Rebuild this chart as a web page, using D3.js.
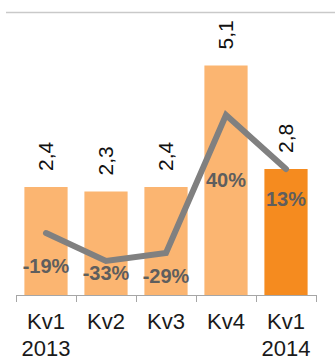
<!DOCTYPE html>
<html>
<head>
<meta charset="utf-8">
<script src="https://cdnjs.cloudflare.com/ajax/libs/d3/7.8.5/d3.min.js"></script>
<style>
    body { margin: 0; background: #fff; }
    svg { display: block; font-family: "Liberation Sans", Arial, sans-serif; }
</style>
</head>
<body>
<div id="chart"></div>
<script>
// Quarterly values (bars) and change vs same quarter previous year (line)
const categories = ["Kv1\n2013", "Kv2", "Kv3", "Kv4", "Kv1\n2014"];
const values = [2.4, 2.3, 2.4, 5.1, 2.8];
const changes = [-19, -33, -29, 40, 13];
// how far below each line point its % label sits (baseline, px)
const changeLabelDy = [40, 19, 30, 72, 37];

const width = 335, height = 361;
const axisY = 295;
const left = 16, right = 316;

const svg = d3.select('#chart')
    .append('svg')
    .attr('width', width)
    .attr('height', height);

// thin rule at the top
svg.append('line')
    .attr('x1', 6).attr('x2', width)
    .attr('y1', 12.5).attr('y2', 12.5)
    .attr('stroke', '#c9c9c9')
    .attr('stroke-width', 1.5);

const x = d3.scaleBand()
    .domain(categories)
    .range([left, right])
    .paddingInner(0.28)
    .paddingOuter(0.14);

const y = d3.scaleLinear()
    .domain([0, 6])
    .range([axisY, axisY - 270]);

// secondary scale for the % change line
const y2 = d3.scaleLinear()
    .domain([-50, 100])
    .range([axisY, axisY - 300]);

const cx = d => x(d) + x.bandwidth() / 2;

// bars
svg.append('g')
    .selectAll('rect')
    .data(categories)
    .enter()
    .append('rect')
    .attr('x', d => x(d))
    .attr('y', (d, i) => y(values[i]))
    .attr('width', x.bandwidth())
    .attr('height', (d, i) => y(0) - y(values[i]))
    .attr('fill', (d, i) => i === categories.length - 1 ? '#f58b1f' : '#fbb571');

// rotated value labels above bars
svg.append('g')
    .selectAll('text')
    .data(categories)
    .enter()
    .append('text')
    .attr('transform', (d, i) => `translate(${cx(d)}, ${y(values[i]) - 16}) rotate(-90)`)
    .attr('text-anchor', 'start')
    .attr('dy', '0.35em')
    .style('font-size', '21px')
    .attr('fill', '#111')
    .text((d, i) => d3.format('.1f')(values[i]).replace('.', ','));

// axis: baseline + boundary ticks
const axis = svg.append('g');
axis.append('line')
    .attr('x1', left).attr('x2', right)
    .attr('y1', axisY + 0.5).attr('y2', axisY + 0.5)
    .attr('stroke', '#a6a6a6');

const edges = categories.map(d => x(d) - x.step() * x.paddingInner() / 2);
edges.push(right);
axis.selectAll('.tick-edge')
    .data(edges)
    .enter()
    .append('line')
    .attr('class', 'tick-edge')
    .attr('x1', d => Math.round(d) + 0.5).attr('x2', d => Math.round(d) + 0.5)
    .attr('y1', axisY).attr('y2', axisY + 7)
    .attr('stroke', '#a6a6a6');

// category labels (two lines where needed)
const labels = axis.selectAll('.cat-label')
    .data(categories)
    .enter()
    .append('text')
    .attr('class', 'cat-label')
    .attr('x', d => cx(d))
    .attr('y', axisY + 34)
    .attr('text-anchor', 'middle')
    .style('font-size', '22px')
    .attr('fill', '#1a1a1a');

labels.each(function(d) {
    const t = d3.select(this);
    d.split('\n').forEach((part, j) => {
        t.append('tspan')
            .attr('x', cx(d))
            .attr('dy', j === 0 ? 0 : 27)
            .text(part);
    });
});

// change line
const line = d3.line()
    .x((d, i) => cx(categories[i]))
    .y(d => y2(d));

svg.append('path')
    .datum(changes)
    .attr('d', line)
    .attr('fill', 'none')
    .attr('stroke', '#808080')
    .attr('stroke-width', 6)
    .attr('stroke-linecap', 'round')
    .attr('stroke-linejoin', 'miter');

// % labels
svg.append('g')
    .selectAll('text')
    .data(changes)
    .enter()
    .append('text')
    .attr('x', (d, i) => cx(categories[i]))
    .attr('y', (d, i) => y2(d) + changeLabelDy[i])
    .attr('text-anchor', 'middle')
    .style('font-size', '20px')
    .style('font-weight', 'bold')
    .attr('fill', '#5e5e5e')
    .text(d => d + '%');
</script>
</body>
</html>
